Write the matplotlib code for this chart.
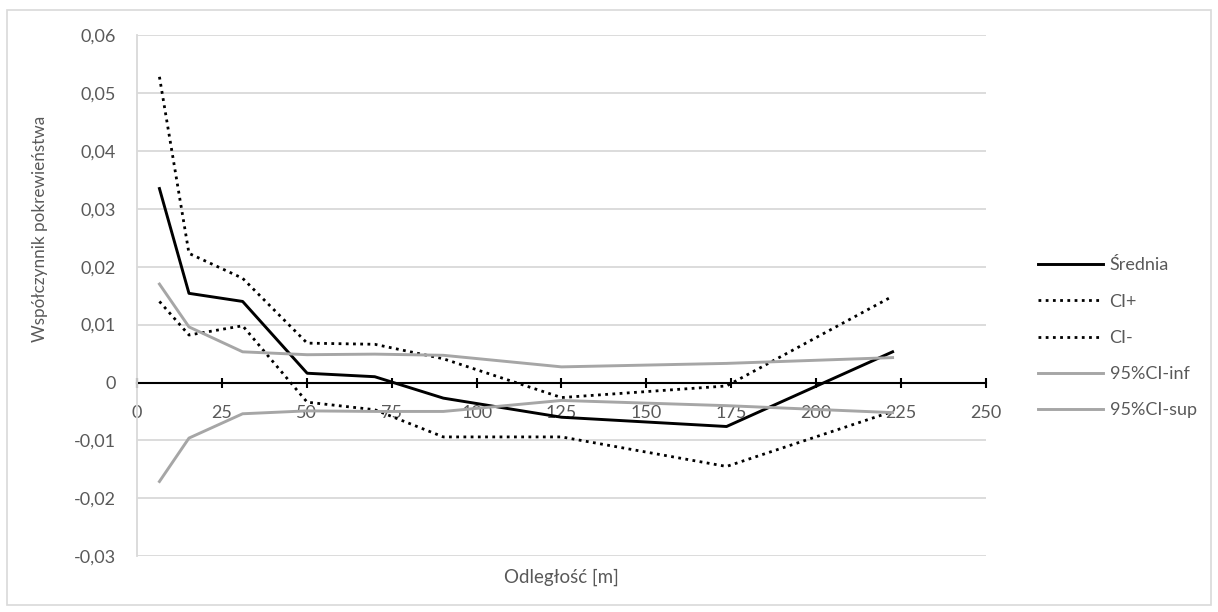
import matplotlib.pyplot as plt
from matplotlib.patches import Rectangle

# Values
odleglosc = [6.6, 15.3, 31.1, 50.1, 70.0, 90.2, 125.0, 173.6, 222.5]
srednia = [0.0335, 0.0154, 0.0140, 0.0016, 0.0010, -0.0027, -0.0060, -0.0076, 0.0053]
ci_plus = [0.0528, 0.0223, 0.0180, 0.0068, 0.0066, 0.0041, -0.0026, -0.0006, 0.0149]
ci_minus = [0.0140, 0.0082, 0.0098, -0.0034, -0.0047, -0.0094, -0.0094, -0.0145, -0.0050]
ci95_inf = [0.0170, 0.0096, 0.0053, 0.0048, 0.0049, 0.0047, 0.0027, 0.0033, 0.0043]
ci95_sup = [-0.0171, -0.0096, -0.0054, -0.0049, -0.0050, -0.0050, -0.0031, -0.0040, -0.0052]

x_ticks = [0, 25, 50, 75, 100, 125, 150, 175, 200, 225, 250]
y_ticks = [-0.03, -0.02, -0.01, 0, 0.01, 0.02, 0.03, 0.04, 0.05, 0.06]
y_tick_labels = ["-0,03", "-0,02", "-0,01", "0", "0,01", "0,02", "0,03", "0,04", "0,05", "0,06"]

plt.rcParams['font.family'] = ['Lato', 'DejaVu Sans']
text_col = "#595959"
grid_col = "#d9d9d9"
gray = "#a6a6a6"

fig = plt.figure(figsize=(12.18, 6.12), dpi=100)
ax = fig.add_axes([0.1125, 0.0912, 0.6970, 0.8514])

dots = (0, (1, 1.6))
ax.plot(odleglosc, srednia, color="black", lw=2.1, label="Średnia")
ax.plot(odleglosc, ci_plus, color="black", lw=2.0, ls=dots, label="CI+")
ax.plot(odleglosc, ci_minus, color="black", lw=2.0, ls=dots, label="CI-")
ax.plot(odleglosc, ci95_inf, color=gray, lw=2.1, label="95%CI-inf")
ax.plot(odleglosc, ci95_sup, color=gray, lw=2.1, label="95%CI-sup")

ax.set_xlim(0, 250)
ax.set_ylim(-0.03, 0.06)
ax.set_xticks(x_ticks)
ax.set_yticks(y_ticks, y_tick_labels)
ax.grid(axis="y", color=grid_col, lw=1.3)
ax.set_axisbelow(True)

for s in ["top", "right"]:
    ax.spines[s].set_visible(False)
ax.spines["left"].set_color(grid_col)
ax.spines["left"].set_linewidth(1.3)
ax.spines["bottom"].set_position(("data", 0))
ax.spines["bottom"].set_color("black")
ax.spines["bottom"].set_linewidth(1.5)
ax.spines["bottom"].set_zorder(1.5)

ax.tick_params(axis="x", direction="inout", length=7, width=1.5, color="black",
               pad=13, labelsize=13, labelcolor=text_col)
ax.tick_params(axis="y", length=0, pad=15, labelsize=13, labelcolor=text_col)

fig.text(0.0328, 0.626, "Współczynnik pokrewieństwa", rotation=90,
         ha="center", va="center", fontsize=12.3, color=text_col)
fig.text(0.4610, 0.057, "Odległość [m]", ha="center", va="center",
         fontsize=13.5, color=text_col)

leg = fig.legend(loc="upper left", bbox_to_anchor=(0.845, 0.594), frameon=False,
                 fontsize=13, labelcolor=text_col, handlelength=3.6,
                 handletextpad=0.35, labelspacing=1.12, borderpad=0)

fig.patches.append(Rectangle((0.006, 0.012), 0.988, 0.972, transform=fig.transFigure,
                             fill=False, edgecolor=grid_col, lw=1.2))

fig.savefig("out.png", dpi=100)
